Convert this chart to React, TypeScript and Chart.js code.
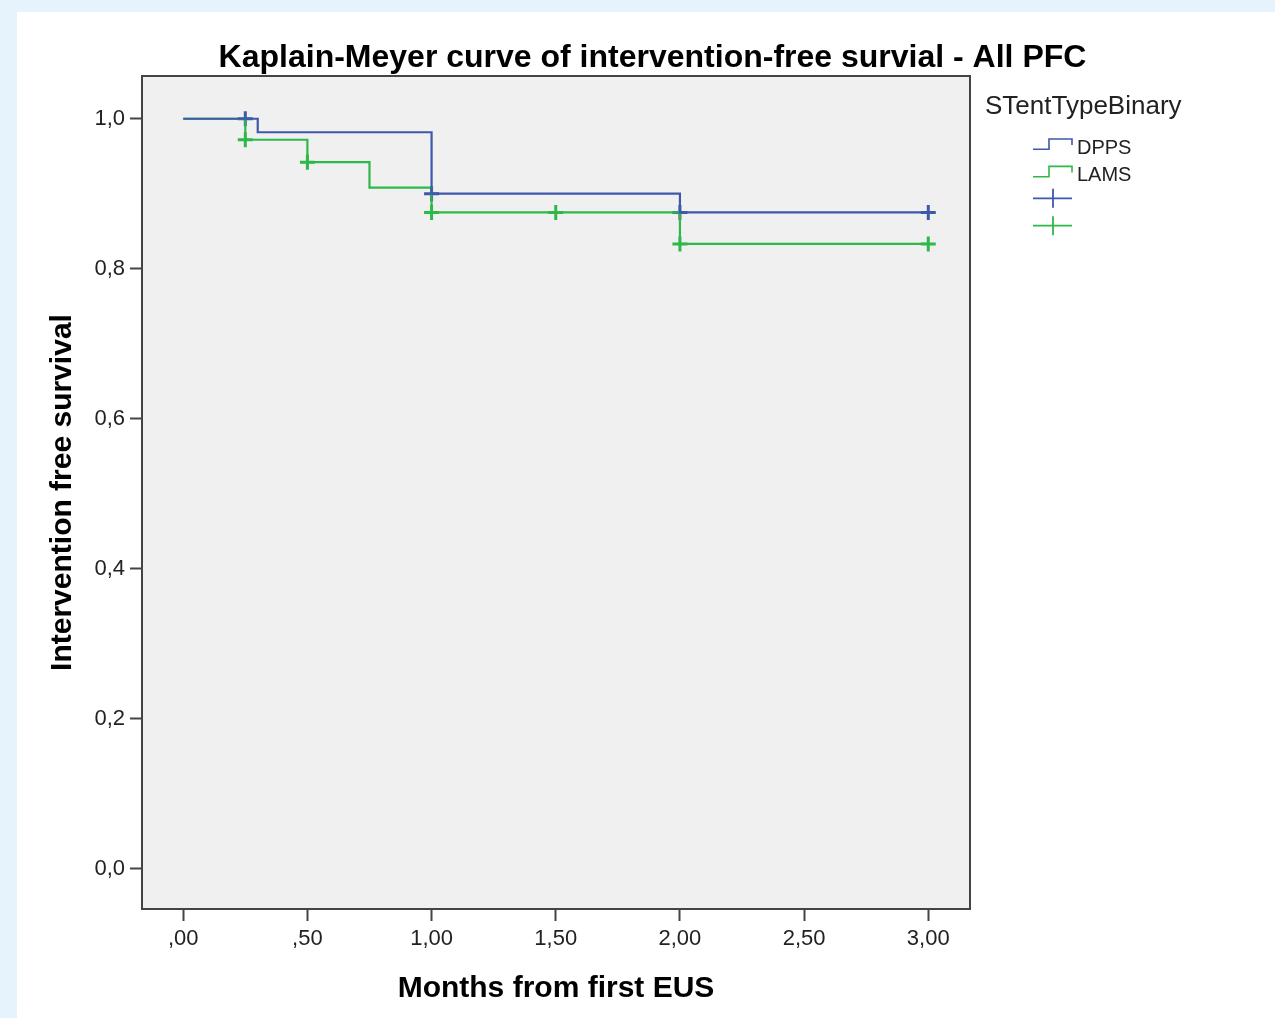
import React, { useEffect, useRef } from "react";
import { Chart, registerables } from "chart.js";

Chart.register(...registerables);

// ---- Data ----
const DPPS_TIMES = [0, 0.3, 1.0, 2.0, 3.0];
const DPPS_SURV = [1.0, 0.982, 0.9, 0.875, 0.875];
const LAMS_TIMES = [0, 0.25, 0.5, 0.75, 1.0, 2.0, 3.0];
const LAMS_SURV = [1.0, 0.972, 0.942, 0.908, 0.875, 0.833, 0.833];
const DPPS_CENSOR_TIMES = [0.25, 1.0, 2.0, 3.0];
const DPPS_CENSOR_SURV = [1.0, 0.9, 0.875, 0.875];
const LAMS_CENSOR_TIMES = [0.25, 0.5, 1.0, 1.5, 2.0, 3.0];
const LAMS_CENSOR_SURV = [0.972, 0.942, 0.875, 0.875, 0.833, 0.833];

const X_TICKS = [0, 0.5, 1.0, 1.5, 2.0, 2.5, 3.0];
const Y_TICKS = [0, 0.2, 0.4, 0.6, 0.8, 1.0];
const SERIES_NAMES = ["DPPS", "LAMS"];

const TITLE = "Kaplain-Meyer curve of intervention-free survial - All PFC";
const X_TITLE = "Months from first EUS";
const Y_TITLE = "Intervention free survival";
const LEGEND_TITLE = "STentTypeBinary";

const BLUE = "#3E58AC";
const GREEN = "#2EB848";
const FONT = "'Liberation Sans', Arial, sans-serif";

const toPts = (xs: number[], ys: number[]) => xs.map((x, i) => ({ x, y: ys[i] }));

const fmtX = (v: number) => {
  const s = v.toFixed(2).replace(".", ",");
  return s.startsWith("0,") ? s.slice(1) : s;
};
const fmtY = (v: number) => v.toFixed(1).replace(".", ",");

const decorPlugin = {
  id: "decor",
  beforeDraw(chart: any) {
    const { ctx, chartArea: a } = chart;
    ctx.save();
    ctx.fillStyle = "#f0f0f0";
    ctx.fillRect(a.left, a.top, a.right - a.left, a.bottom - a.top);
    ctx.restore();
  },
  afterDraw(chart: any) {
    const { ctx, chartArea: a } = chart;
    ctx.save();
    // plot frame
    ctx.strokeStyle = "#444444";
    ctx.lineWidth = 2;
    ctx.strokeRect(a.left, a.top, a.right - a.left, a.bottom - a.top);

    // chart title
    ctx.fillStyle = "#000";
    ctx.font = `bold 32px ${FONT}`;
    ctx.textAlign = "center";
    ctx.textBaseline = "alphabetic";
    ctx.fillText(TITLE, 635.5, 55);

    // x-axis title
    ctx.font = `bold 30px ${FONT}`;
    ctx.fillText(X_TITLE, (a.left + a.right) / 2, 985);

    // y-axis title
    ctx.save();
    ctx.translate(54, (a.top + a.bottom) / 2);
    ctx.rotate(-Math.PI / 2);
    ctx.fillText(Y_TITLE, 0, 0);
    ctx.restore();

    // legend
    ctx.textAlign = "left";
    ctx.fillStyle = "#222";
    ctx.font = `26px ${FONT}`;
    ctx.fillText(LEGEND_TITLE, 968, 102);

    ctx.font = `20px ${FONT}`;
    const colors = [chart.data.datasets[0].borderColor, chart.data.datasets[1].borderColor];
    const rowY = [0, 27.4];
    SERIES_NAMES.forEach((name, i) => {
      const dy = rowY[i];
      ctx.strokeStyle = colors[i];
      ctx.lineWidth = 1.6;
      ctx.beginPath();
      ctx.moveTo(1016, 137.3 + dy);
      ctx.lineTo(1032, 137.3 + dy);
      ctx.lineTo(1032, 127 + dy);
      ctx.lineTo(1055, 127 + dy);
      ctx.lineTo(1055, 133 + dy);
      ctx.stroke();
      ctx.fillStyle = "#222";
      ctx.fillText(name, 1060, 142 + dy);
    });
    // censor symbols in legend
    const crossY = [186.3, 213.7];
    crossY.forEach((cy, i) => {
      ctx.strokeStyle = colors[i];
      ctx.lineWidth = 1.8;
      ctx.beginPath();
      ctx.moveTo(1016, cy);
      ctx.lineTo(1055, cy);
      ctx.moveTo(1036, cy - 9.5);
      ctx.lineTo(1036, cy + 9.5);
      ctx.stroke();
    });
    ctx.restore();
  },
};

export default function App() {
  const ref = useRef<HTMLCanvasElement | null>(null);

  useEffect(() => {
    if (!ref.current) return;
    const chart = new Chart(ref.current, {
      type: "scatter",
      data: {
        datasets: [
          {
            label: SERIES_NAMES[0],
            data: toPts(DPPS_TIMES, DPPS_SURV),
            showLine: true,
            stepped: "before",
            borderColor: BLUE,
            borderWidth: 2.2,
            pointRadius: 0,
            fill: false,
          },
          {
            label: SERIES_NAMES[1],
            data: toPts(LAMS_TIMES, LAMS_SURV),
            showLine: true,
            stepped: "before",
            borderColor: GREEN,
            borderWidth: 2.2,
            pointRadius: 0,
            fill: false,
          },
          {
            label: SERIES_NAMES[0] + " censored",
            data: toPts(DPPS_CENSOR_TIMES, DPPS_CENSOR_SURV),
            showLine: false,
            pointStyle: "cross",
            pointRadius: 7.5,
            pointBorderWidth: 3,
            borderColor: BLUE,
            backgroundColor: BLUE,
          },
          {
            label: SERIES_NAMES[1] + " censored",
            data: toPts(LAMS_CENSOR_TIMES, LAMS_CENSOR_SURV),
            showLine: false,
            pointStyle: "cross",
            pointRadius: 7.5,
            pointBorderWidth: 3,
            borderColor: GREEN,
            backgroundColor: GREEN,
          },
        ] as any,
      },
      options: {
        animation: false,
        responsive: false,
        maintainAspectRatio: false,
        events: [],
        layout: { padding: { top: 64, right: 305, left: 0, bottom: 0 } },
        plugins: {
          legend: { display: false },
          title: { display: false },
          tooltip: { enabled: false },
        },
        scales: {
          x: {
            type: "linear",
            min: -0.166,
            max: 3.168,
            afterFit: (s: any) => {
              s.height = 109;
            },
            afterBuildTicks: (s: any) => {
              s.ticks = X_TICKS.map((v) => ({ value: v }));
            },
            border: { display: false },
            grid: {
              display: true,
              drawOnChartArea: false,
              drawTicks: true,
              tickLength: 12,
              tickColor: "#444444",
              tickWidth: 2,
            },
            ticks: {
              autoSkip: false,
              maxRotation: 0,
              padding: 5,
              color: "#222",
              font: { family: FONT, size: 22 },
              callback: (v: any) => fmtX(Number(v)),
            },
          },
          y: {
            type: "linear",
            min: -0.054,
            max: 1.057,
            afterFit: (s: any) => {
              s.width = 125;
            },
            afterBuildTicks: (s: any) => {
              s.ticks = Y_TICKS.map((v) => ({ value: v }));
            },
            border: { display: false },
            grid: {
              display: true,
              drawOnChartArea: false,
              drawTicks: true,
              tickLength: 12,
              tickColor: "#444444",
              tickWidth: 2,
            },
            ticks: {
              autoSkip: false,
              padding: 5,
              color: "#222",
              font: { family: FONT, size: 22 },
              callback: (v: any) => fmtY(Number(v)),
            },
          },
        },
      } as any,
      plugins: [decorPlugin],
    });
    return () => chart.destroy();
  }, []);

  return (
    <div
      style={{
        position: "absolute",
        left: 0,
        top: 0,
        width: 1275,
        height: 1018,
        background: "#e6f2fc",
        overflow: "hidden",
      }}
    >
      <div
        style={{
          position: "absolute",
          left: 17,
          top: 12,
          width: 1258,
          height: 1006,
          background: "#ffffff",
        }}
      >
        <canvas ref={ref} width={1258} height={1006} style={{ display: "block" }} />
      </div>
    </div>
  );
}
